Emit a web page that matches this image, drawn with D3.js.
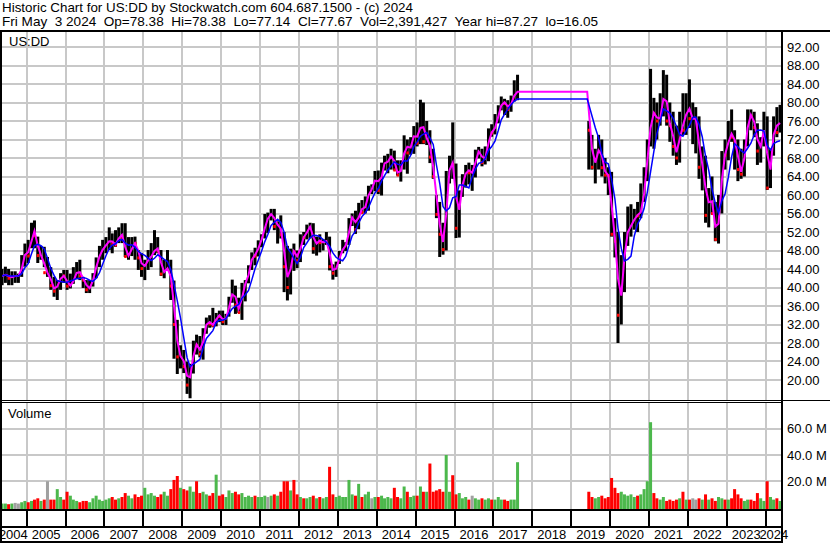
<!DOCTYPE html>
<html><head><meta charset="utf-8">
<script src="https://cdn.jsdelivr.net/npm/d3@7"></script>
<style>
html,body{margin:0;padding:0;background:#fff;}
svg{display:block;font-family:Arial,"Liberation Sans",sans-serif;}
text{white-space:pre;}
</style></head><body>
<svg id="chart" width="830" height="543"></svg>
<script>
// ---------- text ----------
const titleLine = "Historic Chart for US:DD by Stockwatch.com 604.687.1500 - (c) 2024";
const infoLine = "Fri May  3 2024  Op=78.38  Hi=78.38  Lo=77.14  Cl=77.67  Vol=2,391,427  Year hi=87.27  lo=16.05";
const symbolLabel = "US:DD";
const volumeLabel = "Volume";
const yearLabels = ["2004","2005","2006","2007","2008","2009","2010","2011","2012","2013","2014",
  "2015","2016","2017","2018","2019","2020","2021","2022","2023","2024"];
const priceTicks = [20,24,28,32,36,40,44,48,52,56,60,64,68,72,76,80,84,88,92];
const volumeTicks = [20,40,60]; // millions

// ---------- data (monthly bars; two trading segments) ----------
const segmentStarts = ["2004-05", "2019-06"];
const segmentLengths = [160, 60];

const high = [
  44,44.5,44,43.5,43.5,43,47,49.5,                                   // 2004 May-Dec
  50.3,54,54.5,51,49,48.8,46.6,44.4,42.3,41.6,43.1,43.8,             // 2005
  43.8,43,44.4,45.5,46,42.3,41.6,41.6,43.1,46.5,49,50.3,             // 2006
  50.9,53,51.7,52.4,53,53.9,53.9,50.9,50.9,51,48.1,47.4,             // 2007
  46,48.1,49.6,52.4,50.9,48.1,46,48.1,46,41.5,33,27.5,               // 2008
  26.5,24,23.5,28.5,29.8,29.5,31.2,33.5,34,35.6,34.5,35,             // 2009
  35,34.3,38,41.7,40.4,37.8,41,41.6,44.8,47.6,48.6,50.2,             // 2010
  51.5,55.9,56.2,57,57,54.3,55.6,52,49,48.4,49.5,48,                 // 2011
  51.5,52,53.6,54,53.9,51,51.5,50.5,52,51,45,45.6,                   // 2012
  47.9,50.3,49.8,55,56,56.6,58.3,58.9,59.7,62,62.3,65.2,             // 2013
  65.3,67,68.5,68.9,70,69.6,67.5,67.5,72.9,72,72.5,74.9,             // 2014
  75.7,80.6,80,76,74,70,60,58.5,54,65.2,68.5,75.7,                   // 2015
  66.8,61,64.5,66.5,67,66.5,69.8,70.4,70,70.5,74.4,75.3,             // 2016
  77.5,79.4,81.3,80.8,80.5,81.5,84.8,86,                             // 2017 Jan-Aug
  76,73,70,73,72,68,66,                                              // 2019 Jun-Dec
  65,55,52,47,52,57.5,58,57,58.5,62.5,66,72,                         // 2020
  87.27,81,80,82,87,86,80,78,75,78,82,82,                            // 2021
  85,80,79,77,70.5,68.5,61.5,64,58.5,60,69.5,72,                     // 2022
  76,78.5,74,72,70,72,78.5,78.5,78,75.5,72.5,78,                     // 2023
  77,70,77,79,79.5                                                   // 2024 Jan-May
];
const low = [
  40.5,41,40.5,40.5,41,41,42.3,44.5,
  45.3,48.5,48.5,45.3,46,44.4,42.3,39.5,38,37.3,39.5,41,
  39.5,39.8,40.8,41.8,41.6,39.9,38.8,38.8,40.2,42,44.4,46,
  47.4,48.1,47.4,48.8,49.6,49.6,46.6,46,46.8,46,43.8,42.3,
  41.6,43.8,44.4,47,47.4,42.5,42,43.8,37.3,24.6,21.3,22.5,
  21.5,17,16.05,21.4,25.5,24.9,24.4,30,31.3,31.4,31.6,32.5,
  31.9,31.9,33.7,36.7,34.3,34.5,33,37,40.9,43.8,44.8,46.7,
  48.7,50.6,51.8,54.5,52.4,49.5,50.6,39,37.2,38.5,43.6,44.2,
  45.5,49.2,50.4,50.6,47.3,46.9,47.6,48,49.2,43.7,41.7,42.3,
  45.1,47.4,47.9,49.2,53.3,51.6,52.6,56.1,56,56.6,60.2,60.8,
  60.2,59.9,65.3,64.7,65.5,65.3,64.2,62.9,65.5,64.6,68.7,68.9,
  70.5,71,71,70.8,66.9,63.5,55,46.6,47.1,48,62.5,63.5,
  50.7,50.8,59.6,61.6,62.3,60.9,63.8,67.9,66.2,66.6,67.3,72.6,
  73.1,75.5,78.3,77.3,76.7,78,80.2,80.5,
  65.5,65.5,62.5,65.5,64,62.5,60,
  51,46.5,28,32,39,49,51,52.5,52,55,58.5,63,
  70.5,70,72,75,77,75,71.5,68.5,66.5,67,73,73,
  74.5,71,69,63.5,61,54,53,56,50,49.5,56,65.5,
  67.5,71.5,65.5,63,63.5,64,70.5,74,72.5,66.5,67,70.5,
  61.1,61.5,68.5,72.5,73.5
];
const close = [
  42.5,43,42,42.5,42.5,42.5,45.5,48.5,
  46.8,53.2,51.2,46.9,47.1,43.2,43.2,40.4,39.2,41.2,42.6,42.5,
  40.3,40.5,42.2,44.1,42.5,41.6,39.5,40.2,42.8,45.8,47.6,48.7,
  49.5,50.5,49.4,49.2,52,50.8,46.7,47,49.6,49.5,46.4,44.1,
  45.2,46.5,46.8,49,47.9,42.9,43.8,44.5,40.3,32,25,25.3,
  22.9,18.9,22.3,27.9,27.5,25.6,30.9,33,32.1,31.8,34.3,33.7,
  32.6,33.9,37.2,39.8,36.2,34.6,40.7,40.8,44.6,47.3,46.8,49.9,
  50.7,54.9,54.9,56.8,53.2,54,51.4,44.5,40,48,47.7,45.8,
  50.9,50.8,52.9,53.4,48.4,50.6,49.7,49.8,50.3,44.5,43.1,45,
  47.4,48.9,49.2,54.5,55.8,52.5,57.7,56.2,58.6,61.2,61.2,65,
  61,66.6,67.1,67.3,69.3,65.4,64.3,66.1,71.8,69.1,71.4,74,
  71.2,77.8,71.5,73.2,68.2,64,55.8,51.5,48.2,63.4,67.3,66.6,
  52.8,60.8,63.3,65.9,64.8,64.8,69.2,69.6,67,68.8,73.6,73.4,
  75.5,78.4,80.3,79.8,78.5,80.7,82.2,82.5,
  74,66,68,71.3,65.9,64.3,64.2,
  51.5,50,34,42.5,50.8,53.1,53.5,55.8,55.5,57,63.5,71.1,
  78,77.5,76,77,84.5,76,75,70.5,68,76,74,80.8,
  76.5,76.5,76.5,66,67.5,55.6,61.3,56,50.4,57.2,68.8,68.6,
  74,72.5,71.5,65.5,64.5,71.4,77.6,77,74.6,69.5,71.5,76.5,
  61.5,69.5,76.5,73.5,77.67
];
const volume = [ // millions of shares per week (typical for the month)
  3,3,2.5,3,3.5,3,4,5,
  4,5,6,7,5,6,20,6,6,14,8,6,
  12,9,6,5,4,5,5,4,7,9,6,5,
  6,7,8,6,7,8,11,9,7,10,8,9,
  15,10,11,9,8,10,12,9,14,21,24,15,
  14,13,16,12,20,11,12,10,9,11,25,9,
  10,8,13,11,12,10,11,8,9,8,9,8,
  8,9,8,9,10,9,12,20,20,13,21,10,
  8,7,7,8,9,7,8,7,8,31,10,8,
  9,8,8,21,10,9,18,8,10,12,7,8,
  8,9,7,8,7,15,8,7,16,12,8,9,
  9,16,12,12,33.5,12,13,14,12,40,12,24.6,
  10,11,7,8,6,9,7,6,7,6,7,6,
  6,8,6,6,5,6,6,34.5,
  12,8,7,8,9,7,8,
  22.5,15,11,12,10,9,10,8,9,10,14,20,
  65,11,7,6,8,5,6,5,6,7,12,6,
  6,7,6,7,6,10,6,7,5,8,7,6,
  6,7,14,10,7,5,6,6,5,11,7,5,
  20,8,6,7,5
];
const fastPeriod = 2;   // magenta moving average (months)
const slowPeriod = 5;   // blue moving average (months)

// ---------- build records ----------
const parseMonth = d3.timeParse("%Y-%m");
const bars = [];
let k = 0;
segmentStarts.forEach((s, si) => {
  const start = parseMonth(s);
  for (let i = 0; i < segmentLengths[si]; i++, k++) {
    const m = d3.timeMonth.offset(start, i);
    bars.push({date: new Date(m.getFullYear(), m.getMonth(), 15), seg: si,
      high: high[k], low: low[k], close: close[k], volume: volume[k]});
  }
});
bars.forEach((b, i) => {
  b.down = i > 0 && b.close < bars[i-1].close;
  b.same = i > 0 && b.close === bars[i-1].close;
  const f = bars.slice(Math.max(0, i - fastPeriod + 1), i + 1);
  const sl = bars.slice(Math.max(0, i - slowPeriod + 1), i + 1);
  b.fast = d3.mean(f, d => d.close);
  b.slow = d3.mean(sl, d => d.close);
});

// ---------- layout ----------
const svg = d3.select("#chart");
const W = 830, H = 543;
const plotL = 2, plotR = 781;
const priceTop = 32, priceBot = 400;
const volTop = 403, volBot = 509;

const x = d3.scaleTime()
  .domain([new Date(2005,0,1), new Date(2024,0,1)])
  .range([26.7, 765.7]);
const y = d3.scaleLinear().domain([20, 92]).range([380, 47]);
const yv = d3.scaleLinear().domain([0, 80]).range([507.5, 402.5]);

svg.append("rect").attr("width", W).attr("height", H).attr("fill", "#fff");

const defs = svg.append("defs");
defs.append("clipPath").attr("id", "clipP").append("rect")
  .attr("x", plotL).attr("y", priceTop).attr("width", plotR - plotL).attr("height", priceBot - priceTop);
defs.append("clipPath").attr("id", "clipV").append("rect")
  .attr("x", plotL).attr("y", volTop).attr("width", plotR - plotL).attr("height", volBot - volTop);

const gridColor = "#c8c8c8";
const yearBounds = d3.range(2005, 2025).map(yr => new Date(yr, 0, 1));

// gridlines
const grid = svg.append("g").attr("shape-rendering", "crispEdges");
grid.selectAll(".hg").data(priceTicks).join("rect")
  .attr("x", plotL).attr("width", plotR - plotL)
  .attr("y", d => Math.round(y(d)) - 1).attr("height", 2).attr("fill", gridColor);
grid.selectAll(".vg").data(volumeTicks).join("rect").attr("class", "vgl")
  .attr("x", plotL).attr("width", plotR - plotL)
  .attr("y", d => Math.round(yv(d)) - 1).attr("height", 2).attr("fill", gridColor);
grid.selectAll(".vx").data(yearBounds).join("rect").attr("class", "vx")
  .attr("x", d => Math.round(x(d)) - 1).attr("width", 2)
  .attr("y", priceTop).attr("height", priceBot - priceTop).attr("fill", gridColor);
grid.selectAll(".vx2").data(yearBounds).join("rect").attr("class", "vx2")
  .attr("x", d => Math.round(x(d)) - 1).attr("width", 2)
  .attr("y", volTop).attr("height", volBot - volTop).attr("fill", gridColor);

// price bars
const pg = svg.append("g").attr("clip-path", "url(#clipP)");
pg.selectAll(".bar").data(bars).join("rect").attr("class", "bar")
  .attr("x", d => x(d.date) - 1.5).attr("width", 3)
  .attr("y", d => y(d.high)).attr("height", d => y(d.low) - y(d.high))
  .attr("fill", "#000");
pg.selectAll(".tick").data(bars.filter(d => d.down)).join("rect").attr("class", "tick")
  .attr("x", d => x(d.date) - 1).attr("width", 2.5)
  .attr("y", d => y(d.close) - 1.5).attr("height", 3)
  .attr("fill", "#ff0000");

// moving averages (flat across the 2017-2019 gap)
function maPoints(key) {
  const pts = [];
  bars.forEach((b, i) => {
    if (i > 0 && b.seg !== bars[i-1].seg) pts.push([x(b.date) - 1.6, y(bars[i-1][key])]);
    pts.push([x(b.date), y(b[key])]);
  });
  return pts;
}
const line = d3.line().curve(d3.curveLinear);
pg.append("path").attr("d", line(maPoints("fast")))
  .attr("fill", "none").attr("stroke", "#ff00ff").attr("stroke-width", 2);
pg.append("path").attr("d", line(maPoints("slow")))
  .attr("fill", "none").attr("stroke", "#0000ff").attr("stroke-width", 1.5);

// volume bars
const vg = svg.append("g").attr("clip-path", "url(#clipV)");
vg.selectAll(".vb").data(bars).join("rect").attr("class", "vb")
  .attr("x", d => x(d.date) - 1.5).attr("width", 3)
  .attr("y", d => yv(d.volume)).attr("height", d => volBot - yv(d.volume))
  .attr("fill", d => d.same ? "#a0a0a0" : (d.down ? "#ff0000" : "#4cb84c"));

// frame
const frame = svg.append("g").attr("fill", "#000").attr("shape-rendering", "crispEdges");
frame.append("rect").attr("x", 0).attr("y", 30).attr("width", W).attr("height", 2);
frame.append("rect").attr("x", 0).attr("y", 30).attr("width", 2).attr("height", H - 30);
frame.append("rect").attr("x", 781).attr("y", 30).attr("width", 2).attr("height", H - 30);
frame.append("rect").attr("x", 0).attr("y", 400).attr("width", W).attr("height", 1);
frame.append("rect").attr("x", 0).attr("y", 402).attr("width", 783).attr("height", 1);
frame.append("rect").attr("x", 0).attr("y", 509).attr("width", 783).attr("height", 2);
frame.append("rect").attr("x", 0).attr("y", 526).attr("width", 783).attr("height", 2);
frame.append("rect").attr("x", 0).attr("y", 541).attr("width", 783).attr("height", 2);
frame.selectAll(".yt").data(yearBounds).join("rect").attr("class", "yt")
  .attr("x", d => Math.round(x(d)) - 1).attr("width", 2)
  .attr("y", 511).attr("height", 15);

// header text
svg.append("text").attr("x", 2).attr("y", 12).attr("font-size", 13.5)
  .attr("textLength", 411).attr("lengthAdjust", "spacingAndGlyphs")
  .attr("fill", "#000").text(titleLine);
svg.append("text").attr("x", 2).attr("y", 26).attr("font-size", 13.5)
  .attr("textLength", 596).attr("lengthAdjust", "spacingAndGlyphs")
  .attr("fill", "#000").text(infoLine);
svg.append("text").attr("x", 9).attr("y", 46).attr("font-size", 13).attr("fill", "#000").text(symbolLabel);
svg.append("text").attr("x", 8).attr("y", 418).attr("font-size", 13).attr("fill", "#000").text(volumeLabel);

// price axis labels
svg.selectAll(".pl").data(priceTicks).join("text").attr("class", "pl")
  .attr("x", 787).attr("y", d => y(d)).attr("dy", "0.36em")
  .attr("font-size", 13).attr("fill", "#000").text(d => d3.format(".2f")(d));
// volume axis labels
svg.selectAll(".vl").data(volumeTicks).join("text").attr("class", "vl")
  .attr("x", 787).attr("y", d => yv(d)).attr("dy", "0.36em")
  .attr("font-size", 13).attr("fill", "#000").text(d => d3.format(".1f")(d) + " M");

// year labels (centered in each year interval)
svg.selectAll(".yl").data(yearLabels).join("text").attr("class", "yl")
  .attr("x", d => {
    const yr = +d;
    const a = Math.max(0, x(new Date(yr, 0, 1)));
    const b = Math.min(782, x(new Date(yr + 1, 0, 1)));
    return (a + b) / 2;
  })
  .attr("y", 539).attr("text-anchor", "middle")
  .attr("font-size", 13).attr("fill", "#000").text(d => d);
</script>
</body></html>
